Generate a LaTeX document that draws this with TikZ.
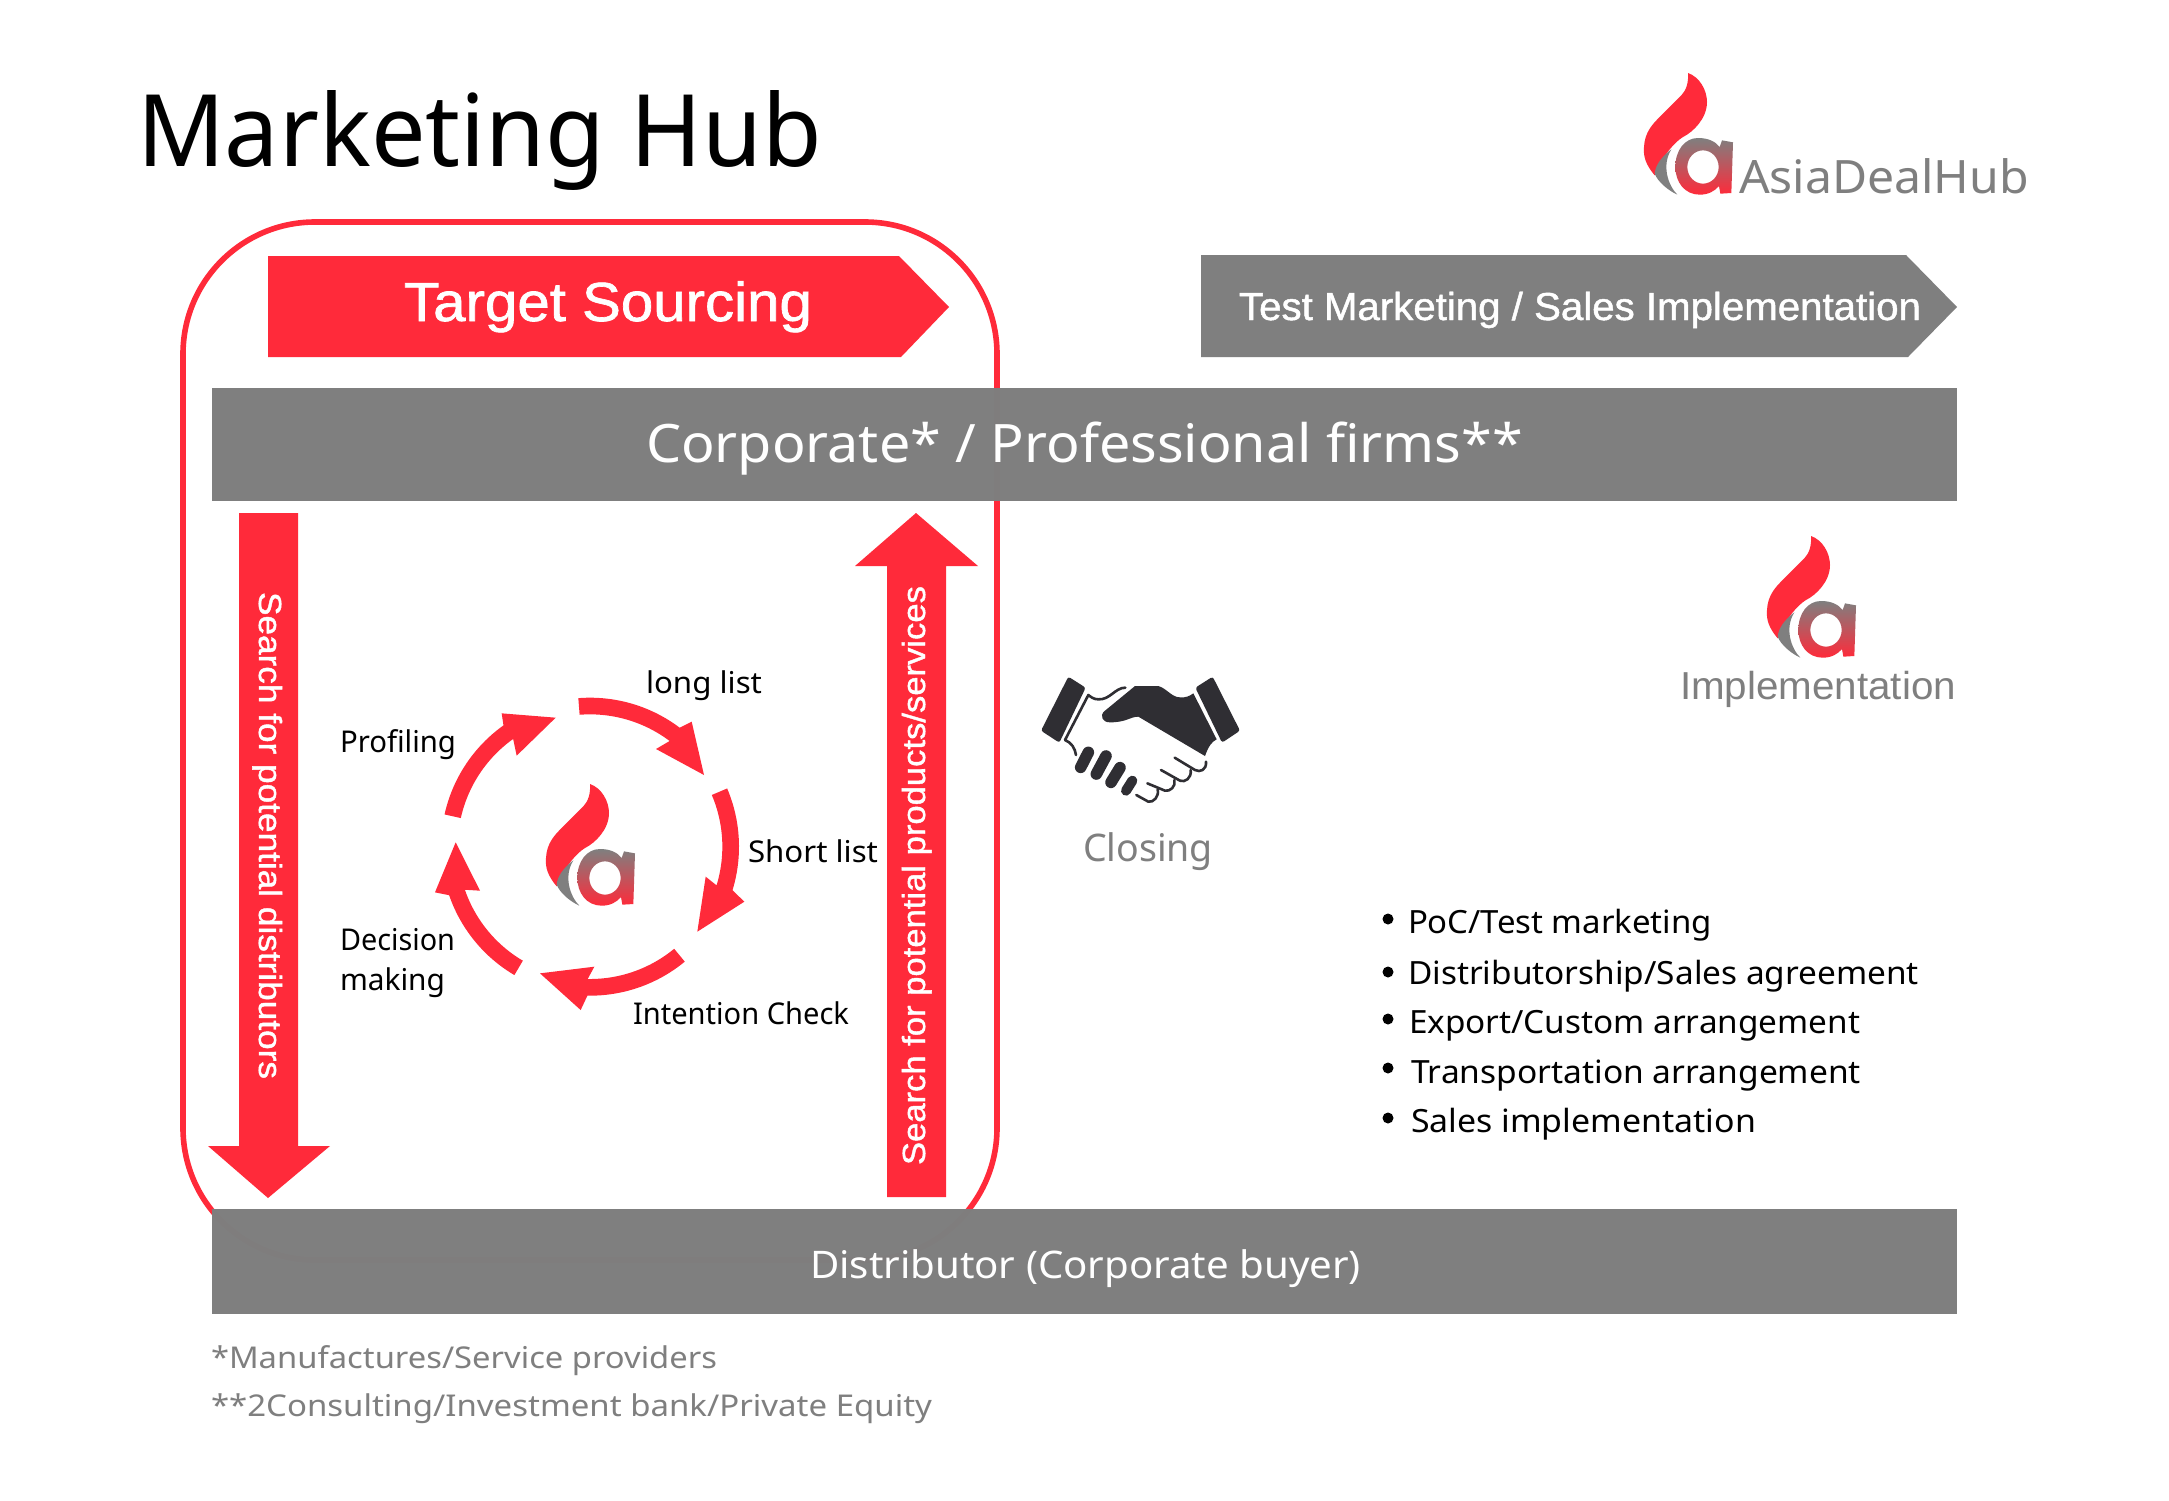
\documentclass[tikz,border=0pt]{standalone}
\usepackage{graphicx}
\usepackage{fontspec}
\setmainfont{Noto Sans}
\newfontfamily\lib{Liberation Sans}[FakeBold=1.2]
\newfontfamily\libn{Liberation Sans}
\usetikzlibrary{calc}
\definecolor{redc}{HTML}{FF2A3A}
\definecolor{grayc}{HTML}{7F7F7F}
\definecolor{barc}{HTML}{7E7E7E}
\definecolor{darkc}{HTML}{2F2E33}
\newsavebox\tbox
\newcommand\tx[3]{\sbox\tbox{\fontsize{#1}{#1}\selectfont #3}\pgfmathsetmacro\txr{#2*0.5/\the\wd\tbox}\scalebox{\txr}[1]{\usebox\tbox}}
\newcommand\cyc[3]{\fill[redc] plot[domain=#1:#2,samples=24] ({510+447*cos(\x)},{530+447*sin(\x)}) -- #3 -- plot[domain=#2:#1,samples=24] ({510+397*cos(\x)},{530+397*sin(\x)}) -- cycle;}
\tikzset{
  txt/.style={inner sep=0pt,outer sep=0pt,anchor=base west},
  gbar/.style={fill=barc,fill opacity=.99,draw=none},
  zoomscale/.style={x=.16667pt,y=-.16667pt},
  finger/.style={draw=darkc,line cap=round,line width=5.8pt},
  thinline/.style={draw=darkc,line width=1.3pt,line cap=round,line join=round},
  logo/.pic={
    \begin{scope}[zoomscale,shift={(-510,-343)}]
      \fill[redc] (510,343) .. controls (545,355) and (567,395) .. (567,430)
        .. controls (567,480) and (525,520) .. (495,535)
        .. controls (470,550) and (435,590) .. (410,650)
        .. controls (385,620) and (375,595) .. (378,565)
        .. controls (380,520) and (405,495) .. (425,475)
        .. controls (450,450) and (475,425) .. (490,410)
        .. controls (505,395) and (512,370) .. (510,343) -- cycle;
      \fill[grayc] (460,572) .. controls (430,595) and (412,620) .. (410,645)
        .. controls (420,670) and (450,695) .. (478,708)
        .. controls (450,680) and (430,620) .. (460,572) -- cycle;
      \shade[top color=grayc,bottom color=redc,even odd rule]
        (612,545) -- (645,551) -- (640,703) -- (607,705) -- (603,682)
        .. controls (590,698) and (570,708) .. (545,708)
        .. controls (500,708) and (472,670) .. (472,625)
        .. controls (472,575) and (500,538) .. (540,538)
        .. controls (570,538) and (592,548) .. (605,565) -- cycle
        (555,625) ellipse [x radius=47,y radius=50];
    \end{scope}
  }
}
\begin{document}
\begin{tikzpicture}[x=.5pt,y=-.5pt]
\useasboundingbox (0,0) rectangle (2169,1500);
\fill[white] (0,0) rectangle (2169,1500);

% outline
\draw[redc,line width=2.8pt,rounded corners=66pt] (183,222) rectangle (997,1260);

% bars
\path[gbar] (212,388) rectangle (1957,501);
\path[gbar] (212,1209) rectangle (1957,1314);

% header arrows
\fill[redc] (268,256) -- (899,256) -- (949,307) -- (901,357) -- (268,357) -- cycle;
\fill[grayc] (1201,255) -- (1906,255) -- (1957,307) -- (1908,357) -- (1201,357) -- cycle;

% vertical arrows
\fill[redc] (239,513) -- (298,513) -- (298,1146) -- (330,1146) -- (268,1198) -- (208,1146) -- (239,1146) -- cycle;
\fill[redc] (887,1197) -- (946,1197) -- (946,566) -- (978,566) -- (916,513) -- (855,566) -- (887,566) -- cycle;

% cycle arrows
\begin{scope}[shift={(420,670)},zoomscale]
  \cyc{-94.5}{-53}{(815,155) -- (852,315) -- (708,237)}
  \cyc{-23}{17}{(973,695) -- (832,785) -- (857,620)}
  \cyc{50.5}{91}{(482,1020) -- (360,910) -- (523,890)}
  \cyc{120.5}{161}{(45,667) -- (107,517) -- (180,662)}
  \cyc{192.5}{234.5}{(245,130) -- (407,143) -- (290,257)}
\end{scope}

% logos
\pic at (1688,73) {logo};
\pic at (590,784) {logo};
\pic at (1811,536) {logo};

% handshake
\begin{scope}[shift={(1020,520)},zoomscale]
  \fill[darkc,rounded corners=1.2pt] (145,470) -- (197,503) -- (118,668) -- (63,632) -- cycle;
  \fill[darkc,rounded corners=1.2pt] (578,470) -- (526,503) -- (606,668) -- (660,632) -- cycle;
  \fill[darkc] (345,498) -- (415,498) .. controls (440,505) and (455,532) .. (480,532)
    .. controls (495,534) and (510,528) .. (520,520) -- (590,658)
    .. controls (575,665) and (565,680) .. (555,708) -- (355,590)
    .. controls (330,590) and (320,607) .. (270,607)
    .. controls (245,607) and (238,585) .. (255,572) -- cycle;
  \draw[thinline] (316,503) .. controls (285,503) and (270,540) .. (235,538)
    .. controls (220,538) and (212,530) .. (205,525) -- (135,660)
    .. controls (155,668) and (165,685) .. (168,705);
  \draw[finger] (205,697) -- (182,742);
  \draw[finger] (258,708) -- (229,762);
  \draw[finger] (300,743) -- (273,787);
  \draw[finger,line width=5pt] (337,782) -- (318,812);
  \draw[thinline] (464,713) -- (525,750) .. controls (540,758) and (560,750) .. (558,725);
  \draw[thinline] (423,750) -- (480,782) .. controls (495,788) and (515,775) .. (512,750);
  \draw[thinline] (382,790) -- (435,812) .. controls (450,815) and (468,800) .. (463,780);
  \draw[thinline] (349,825) -- (385,845) .. controls (400,848) and (418,830) .. (413,808);
\end{scope}

% title & logo text
\node[txt,text=black] (title) at (137,166) {\tx{50}{685}{Marketing Hub}};
\node[txt,text=grayc] (brand) at (1739,193) {\tx{23}{290}{AsiaDealHub}};

% banner text
\node[txt,text=white] (target) at (404,321) {\tx{27.5}{408}{\lib Target Sourcing}};
\node[txt,text=white] (test) at (1239,320) {\tx{19.5}{682}{\lib Test Marketing / Sales Implementation}};
\node[txt,text=white] (corp) at (646,462) {\tx{26.5}{877}{Corporate* / Professional firms**}};
\node[txt,text=white] (dist) at (810,1278) {\tx{19}{551}{Distributor (Corporate buyer)}};

% vertical text
\node[txt,text=white,rotate=-90] (searchd) at (259,592) {\tx{16}{487}{\lib Search for potential distributors}};
\node[txt,text=white,rotate=90] (searchu) at (925,1165) {\tx{16}{579}{\lib Search for potential products/services}};

% cycle labels
\node[txt] (longl) at (646,693) {\tx{15}{116}{long list}};
\node[txt] (prof) at (340,752) {\tx{15}{116}{Profiling}};
\node[txt] (short) at (748,862) {\tx{15}{130}{Short list}};
\node[txt] (dec) at (340,950) {\tx{15}{115}{Decision}};
\node[txt] (mak) at (340,990) {\tx{15}{105}{making}};
\node[txt] (intent) at (633,1024) {\tx{15}{216}{Intention Check}};

% closing / implementation
\node[txt,text=grayc] (closing) at (1083,861) {\tx{19}{130}{Closing}};
\node[txt,text=grayc] (impl) at (1680,699) {\tx{19.5}{276}{\libn Implementation}};

% bullets
\foreach \bx/\by in {1388/919,1388/972,1388/1019,1388/1068,1388/1118}
  \fill[black] (\bx,\by) circle [radius=5.5];
\node[txt] (b1) at (1408,933) {\tx{16}{304}{PoC/Test marketing}};
\node[txt] (b2) at (1408,984) {\tx{16}{511}{Distributorship/Sales agreement}};
\node[txt] (b3) at (1409,1033) {\tx{16}{451}{Export/Custom arrangement}};
\node[txt] (b4) at (1411,1083) {\tx{16}{450}{Transportation arrangement}};
\node[txt] (b5) at (1411,1132) {\tx{16}{345}{Sales implementation}};

% footnotes
\node[txt,text=grayc] (fn1) at (211,1368) {\tx{15}{506}{*Manufactures/Service providers}};
\node[txt,text=grayc] (fn2) at (211,1416) {\tx{15}{721}{**2Consulting/Investment bank/Private Equity}};
\end{tikzpicture}
\end{document}
